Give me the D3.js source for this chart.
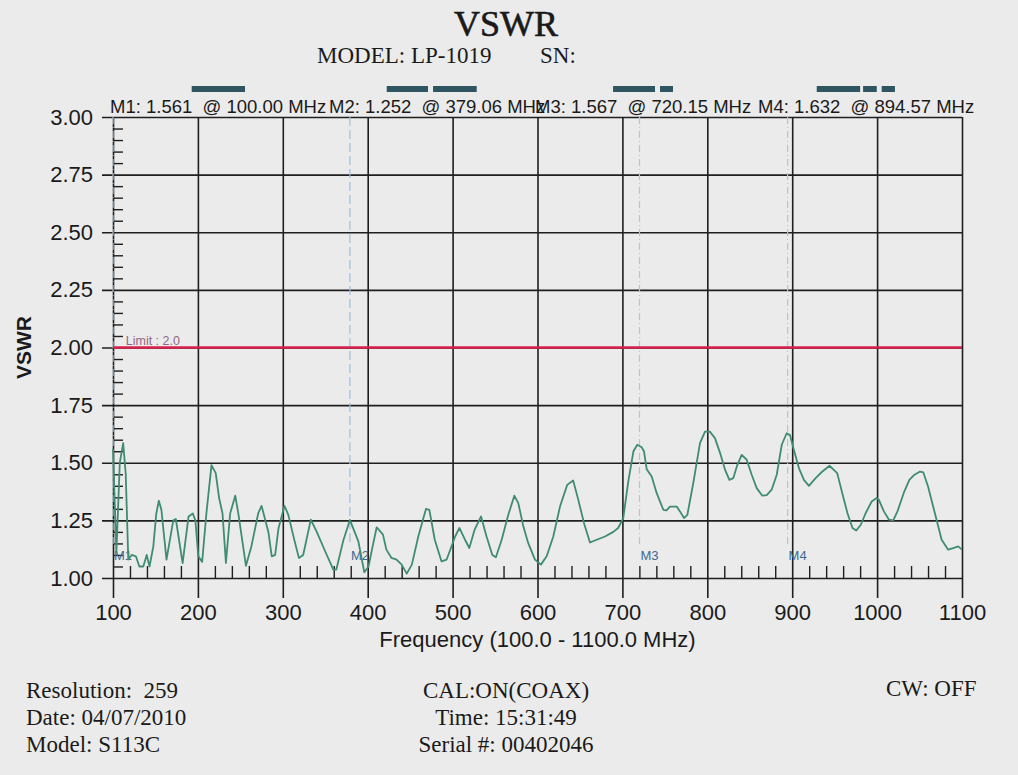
<!DOCTYPE html>
<html>
<head>
<meta charset="utf-8">
<script src="https://cdn.jsdelivr.net/npm/d3@7"></script>
<style>
  body { margin: 0; background: #ebebeb; }
  svg { display: block; }
  .grid line { stroke: #1f1f1f; stroke-width: 1.6; }
  .grid text { font-family: "Liberation Sans", Arial, sans-serif; font-size: 22px; fill: #1a1a1a; }
  .minor line { stroke: #1f1f1f; stroke-width: 1.4; }
  .serif { font-family: "Liberation Serif", "Times New Roman", serif; fill: #1a1a1a; }
  .sans { font-family: "Liberation Sans", Arial, sans-serif; fill: #1a1a1a; }
</style>
</head>
<body>
<svg id="main"></svg>
<script>
// trace (MHz, VSWR)
var freq = [100, 104, 108, 112, 115, 118, 122, 127, 131, 135.7, 139.7, 143, 147.5, 151, 154, 157, 163,
  171, 174, 182, 189, 194, 197, 200.5, 205, 210, 216, 221, 225, 229, 233, 238, 244, 247.6, 256.6,
  263, 271, 275, 283, 287, 291, 295, 302, 306.5, 314, 319, 324, 333, 340, 350, 359.5, 363, 371,
  379, 389, 396, 401, 405, 410.6, 418, 422, 428, 434, 440, 446, 452, 459.6, 468.7, 472.6, 479,
  487, 493, 503, 508, 514.6, 519.7, 526, 533.5, 540, 546.8, 551, 557.8, 565.6, 572.7, 577.4,
  583.3, 589, 597, 604, 610.8, 618.6, 626.5, 635, 642, 648, 654.8, 661.8, 669.7, 679.5, 689.3,
  695, 701, 707, 713, 717.5, 722.7, 725.4, 728.6, 734.5, 740.4, 748.2, 752, 756, 764, 767.8,
  772.6, 776.5, 783.5, 791.4, 797.3, 803, 809, 815.8, 821, 826, 830.6, 835.3, 840.5, 846.4,
  852.3, 858.2, 864.8, 870, 875.8, 881.8, 887.7, 893.5, 897.4, 902, 908, 913.8, 919.7, 927.6,
  935.5, 944, 949, 953, 959, 965, 971, 975.5, 980.8, 986.6, 993.6, 999.5, 1002, 1008, 1014,
  1019, 1024, 1032, 1038, 1044, 1050.6, 1054.5, 1060, 1068, 1076, 1083.7, 1089.6, 1095.5, 1100];
var vswr = [1.561, 1.11, 1.50, 1.585, 1.45, 1.08, 1.10, 1.094, 1.05, 1.05, 1.10, 1.05, 1.137, 1.28, 1.335, 1.296, 1.08,
  1.25, 1.256, 1.065, 1.267, 1.28, 1.25, 1.094, 1.07, 1.28, 1.49, 1.455, 1.347, 1.28, 1.065, 1.28, 1.357, 1.28, 1.053,
  1.137, 1.28, 1.313, 1.20, 1.094, 1.10, 1.217, 1.313, 1.274, 1.159, 1.087, 1.10, 1.253, 1.20, 1.115, 1.036, 1.036, 1.159,
  1.252, 1.159, 1.025, 1.05, 1.123, 1.22, 1.188, 1.123, 1.087, 1.08, 1.058, 1.019, 1.058, 1.18, 1.30, 1.296, 1.166,
  1.072, 1.08, 1.18, 1.217, 1.166, 1.13, 1.21, 1.267, 1.18, 1.10, 1.09, 1.166, 1.274, 1.357, 1.325,
  1.224, 1.152, 1.08, 1.058, 1.094, 1.18, 1.31, 1.404, 1.423, 1.34, 1.238, 1.154, 1.166, 1.18, 1.20,
  1.217, 1.26, 1.42, 1.55, 1.578, 1.567, 1.55, 1.472, 1.44, 1.368, 1.296, 1.293, 1.31, 1.31, 1.289,
  1.26, 1.274, 1.412, 1.585, 1.635, 1.635, 1.607, 1.534, 1.469, 1.426, 1.433, 1.49, 1.534, 1.513,
  1.448, 1.39, 1.357, 1.36, 1.383, 1.448, 1.578, 1.628, 1.62, 1.555, 1.476, 1.426, 1.40, 1.433,
  1.462, 1.487, 1.469, 1.455, 1.368, 1.282, 1.217, 1.206, 1.231, 1.282, 1.332, 1.347, 1.34, 1.289, 1.253,
  1.25, 1.289, 1.375, 1.426, 1.448, 1.462, 1.458, 1.397, 1.282, 1.166, 1.123, 1.13, 1.137, 1.123];

var xTicks = [100, 200, 300, 400, 500, 600, 700, 800, 900, 1000, 1100];
var yTicks = [1.00, 1.25, 1.50, 1.75, 2.00, 2.25, 2.50, 2.75, 3.00];
var limit = 2.0;

var markerNames = ["M1", "M2", "M3", "M4"];
var markerFreq = [100.00, 379.06, 720.15, 894.57];
var markerVal = [1.561, 1.252, 1.567, 1.632];
var markerTextX = [110, 329, 535, 758];

// dark bars above the marker read-out (start/end in MHz)
var barStart = [192.7, 422.4, 477, 689, 744.3, 928.9, 983.5, 1005.4];
var barEnd = [255.5, 471, 528.4, 738.4, 759.6, 980, 999.6, 1021];

var footLeft = ["Resolution:  259", "Date: 04/07/2010", "Model: S113C"];
var footMid = ["CAL:ON(COAX)", "Time: 15:31:49", "Serial #: 00402046"];
var footRight = ["CW: OFF"];

var w = 1018, h = 775;
var padL = 113, padR = 962, padT = 117, padB = 578;

var svg = d3.select("#main").attr("width", w).attr("height", h);
svg.append("rect").attr("width", w).attr("height", h).attr("fill", "#ebebeb");

var x = d3.scaleLinear().domain([100, 1100]).range([padL, padR]);
var y = d3.scaleLinear().domain([1, 3]).range([padB, padT]);

// grid + labels through the axes
var xAxis = d3.axisBottom(x).tickValues(xTicks).tickSize(-(padB + 20 - padT)).tickPadding(6)
  .tickFormat(d3.format("d"));
svg.append("g").attr("class", "grid")
  .attr("transform", "translate(0," + (padB + 20) + ")")
  .call(xAxis).call(function(g) { g.select(".domain").remove(); });

var yAxis = d3.axisLeft(y).tickValues(yTicks).tickSize(-(padR - padL + 11)).tickPadding(9)
  .tickFormat(d3.format(".2f"));
svg.append("g").attr("class", "grid")
  .attr("transform", "translate(" + (padL - 11) + ",0)")
  .call(yAxis).call(function(g) { g.select(".domain").remove(); });

svg.selectAll(".grid text").attr("fill", "#1a1a1a").attr("stroke", "none");
svg.selectAll(".grid line").attr("stroke", "#1f1f1f");

// minor ticks
var yMinor = d3.range(1.05, 3.0, 0.05).filter(function(v) { return Math.abs(v * 4 - Math.round(v * 4)) > 0.01; });
svg.append("g").attr("class", "minor")
  .attr("transform", "translate(" + padL + ",0)")
  .call(d3.axisRight(y).tickValues(yMinor).tickSize(10).tickFormat(""))
  .call(function(g) { g.select(".domain").remove(); });

var xMinor = d3.range(120, 1100, 20).filter(function(v) { return v % 100 !== 0; });
svg.append("g").attr("class", "minor")
  .attr("transform", "translate(0," + padB + ")")
  .call(d3.axisTop(x).tickValues(xMinor).tickSize(12).tickFormat(""))
  .call(function(g) { g.select(".domain").remove(); });
svg.selectAll(".minor line").attr("stroke", "#1f1f1f");

// marker lines
svg.selectAll(".mline")
  .data(markerFreq)
  .enter()
  .append("line")
  .attr("x1", function(d) { return x(d); })
  .attr("x2", function(d) { return x(d); })
  .attr("y1", y(3))
  .attr("y2", y(1.14))
  .attr("stroke", function(d, i) { return i == 1 ? "#9cc0d8" : "#b4c6d4"; })
  .attr("stroke-width", 1.2)
  .attr("stroke-dasharray", function(d, i) { return i == 1 ? "9,4" : "7,3,1,3"; });

svg.selectAll(".mlabel")
  .data(markerNames)
  .enter()
  .append("text")
  .attr("class", "sans")
  .attr("x", function(d, i) { return x(markerFreq[i]) + 1; })
  .attr("y", y(1.08))
  .attr("font-size", 13)
  .style("fill", "#3d6a90")
  .text(function(d) { return d; });

// limit line
svg.append("line")
  .attr("x1", x(100)).attr("x2", x(1100))
  .attr("y1", y(limit)).attr("y2", y(limit))
  .attr("stroke", "#d8204f")
  .attr("stroke-width", 2.4);
svg.append("text")
  .attr("class", "sans")
  .attr("x", x(115)).attr("y", y(limit) - 3)
  .attr("font-size", 12.5)
  .style("fill", "#946683")
  .text("Limit : " + limit.toFixed(1));

// trace
var pts = freq.map(function(f, i) { return [f, vswr[i]]; });
var line = d3.line()
  .x(function(d) { return x(d[0]); })
  .y(function(d) { return y(d[1]); });
svg.append("path")
  .datum(pts)
  .attr("d", line)
  .attr("fill", "none")
  .attr("stroke", "#3f8c72")
  .attr("stroke-width", 1.8)
  .attr("stroke-linejoin", "round");

// marker read-out
svg.selectAll(".mtext")
  .data(markerNames)
  .enter()
  .append("text")
  .attr("class", "sans")
  .attr("x", function(d, i) { return markerTextX[i]; })
  .attr("y", 113)
  .attr("font-size", 18.5)
  .style("white-space", "pre")
  .text(function(d, i) {
    return d + ": " + markerVal[i].toFixed(3) + "  @ " + markerFreq[i].toFixed(2) + " MHz";
  });

svg.selectAll(".bar")
  .data(barStart)
  .enter()
  .append("rect")
  .attr("x", function(d) { return x(d); })
  .attr("y", 86)
  .attr("width", function(d, i) { return x(barEnd[i]) - x(d); })
  .attr("height", 6)
  .attr("fill", "#2e5560");

// titles
svg.append("text").attr("class", "serif")
  .attr("x", 506).attr("y", 36)
  .attr("text-anchor", "middle")
  .attr("font-size", 36)
  .style("stroke", "#1a1a1a").style("stroke-width", 0.6)
  .text("VSWR");
svg.append("text").attr("class", "serif")
  .attr("x", 317).attr("y", 63)
  .attr("font-size", 23)
  .text("MODEL: LP-1019");
svg.append("text").attr("class", "serif")
  .attr("x", 540).attr("y", 63)
  .attr("font-size", 23)
  .text("SN:");

svg.append("text").attr("class", "sans")
  .attr("transform", "translate(31," + y(2) + ") rotate(-90)")
  .attr("text-anchor", "middle")
  .attr("font-size", 21)
  .attr("font-weight", "bold")
  .text("VSWR");

svg.append("text").attr("class", "sans")
  .attr("x", (padL + padR) / 2).attr("y", 647)
  .attr("text-anchor", "middle")
  .attr("font-size", 22)
  .text("Frequency (100.0 - 1100.0 MHz)");

// footer
svg.selectAll(".fl").data(footLeft).enter().append("text")
  .attr("class", "serif").attr("x", 26)
  .attr("y", function(d, i) { return 698 + i * 27; })
  .attr("font-size", 23)
  .style("white-space", "pre")
  .text(function(d) { return d; });
svg.selectAll(".fm").data(footMid).enter().append("text")
  .attr("class", "serif").attr("x", 506)
  .attr("text-anchor", "middle")
  .attr("y", function(d, i) { return 698 + i * 27; })
  .attr("font-size", 23)
  .text(function(d) { return d; });
svg.selectAll(".fr").data(footRight).enter().append("text")
  .attr("class", "serif").attr("x", 886)
  .attr("y", function(d, i) { return 696 + i * 27; })
  .attr("font-size", 23)
  .text(function(d) { return d; });
</script>
</body>
</html>
